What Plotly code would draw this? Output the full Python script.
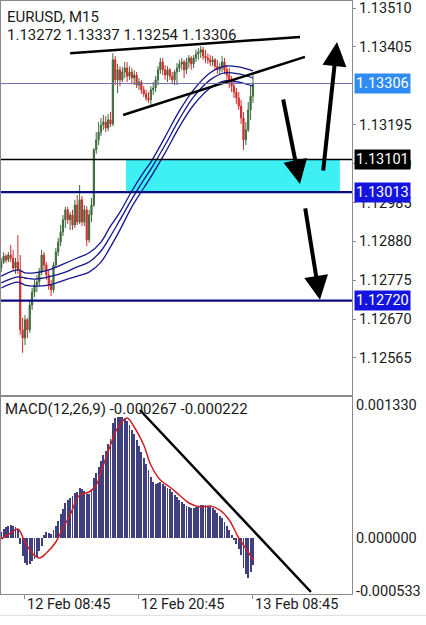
import plotly.graph_objects as go

# ---------------- data ----------------
bar_idx = list(range(107))

opens = [1.12808, 1.12824, 1.12840, 1.12830, 1.12843, 1.12835, 1.12808, 1.12824, 1.12803, 1.12641,
         1.12619, 1.12668, 1.12641, 1.12708, 1.12743, 1.12762, 1.12770, 1.12797, 1.12843, 1.12816,
         1.12789, 1.12762, 1.12749, 1.12816, 1.12851, 1.12878, 1.12905, 1.12938, 1.12965, 1.12938,
         1.12951, 1.12924, 1.12978, 1.12932, 1.12992, 1.12932, 1.12965, 1.12884, 1.12951, 1.12978,
         1.13127, 1.13154, 1.13175, 1.13194, 1.13202, 1.13186, 1.13208, 1.13197, 1.13370, 1.13316,
         1.13343, 1.13316, 1.13337, 1.13348, 1.13326, 1.13337, 1.13321, 1.13329, 1.13302, 1.13310,
         1.13289, 1.13278, 1.13267, 1.13262, 1.13289, 1.13294, 1.13316, 1.13343, 1.13364, 1.13343,
         1.13329, 1.13343, 1.13326, 1.13316, 1.13337, 1.13348, 1.13359, 1.13364, 1.13343, 1.13364,
         1.13375, 1.13359, 1.13375, 1.13386, 1.13391, 1.13397, 1.13380, 1.13375, 1.13370, 1.13364,
         1.13370, 1.13353, 1.13343, 1.13348, 1.13364, 1.13343, 1.13329, 1.13310, 1.13299, 1.13283,
         1.13267, 1.13245, 1.13213, 1.13154, 1.13181, 1.13235, 1.13272]
highs = [1.12835, 1.12851, 1.12846, 1.12851, 1.12870, 1.12857, 1.12835, 1.12897, 1.12843, 1.12673,
         1.12681, 1.12673, 1.12722, 1.12754, 1.12776, 1.12789, 1.12808, 1.12857, 1.12851, 1.12824,
         1.12803, 1.12776, 1.12824, 1.12862, 1.12889, 1.12924, 1.12951, 1.12973, 1.12973, 1.12959,
         1.12965, 1.12992, 1.13005, 1.13032, 1.13002, 1.12978, 1.12975, 1.12965, 1.12997, 1.13132,
         1.13175, 1.13202, 1.13213, 1.13221, 1.13218, 1.13224, 1.13229, 1.13388, 1.13380, 1.13359,
         1.13353, 1.13351, 1.13364, 1.13364, 1.13353, 1.13348, 1.13343, 1.13337, 1.13321, 1.13316,
         1.13299, 1.13289, 1.13283, 1.13299, 1.13310, 1.13326, 1.13353, 1.13375, 1.13375, 1.13356,
         1.13353, 1.13348, 1.13337, 1.13343, 1.13361, 1.13370, 1.13375, 1.13370, 1.13375, 1.13383,
         1.13380, 1.13383, 1.13397, 1.13402, 1.13407, 1.13405, 1.13397, 1.13388, 1.13383, 1.13380,
         1.13375, 1.13370, 1.13361, 1.13380, 1.13375, 1.13356, 1.13348, 1.13326, 1.13316, 1.13294,
         1.13283, 1.13262, 1.13229, 1.13202, 1.13256, 1.13299, 1.13337]
lows = [1.12797, 1.12819, 1.12822, 1.12824, 1.12824, 1.12800, 1.12792, 1.12792, 1.12627, 1.12579,
        1.12600, 1.12619, 1.12633, 1.12695, 1.12730, 1.12743, 1.12759, 1.12789, 1.12803, 1.12776,
        1.12749, 1.12732, 1.12741, 1.12808, 1.12840, 1.12867, 1.12894, 1.12916, 1.12927, 1.12911,
        1.12911, 1.12916, 1.12924, 1.12927, 1.12921, 1.12921, 1.12867, 1.12876, 1.12932, 1.12973,
        1.13116, 1.13140, 1.13164, 1.13181, 1.13175, 1.13178, 1.13189, 1.13191, 1.13302, 1.13280,
        1.13299, 1.13310, 1.13321, 1.13310, 1.13316, 1.13305, 1.13302, 1.13294, 1.13289, 1.13278,
        1.13270, 1.13259, 1.13254, 1.13248, 1.13275, 1.13283, 1.13302, 1.13332, 1.13329, 1.13316,
        1.13310, 1.13316, 1.13305, 1.13302, 1.13302, 1.13337, 1.13343, 1.13321, 1.13332, 1.13348,
        1.13343, 1.13348, 1.13364, 1.13370, 1.13375, 1.13370, 1.13361, 1.13359, 1.13353, 1.13353,
        1.13343, 1.13332, 1.13332, 1.13337, 1.13332, 1.13316, 1.13294, 1.13283, 1.13267, 1.13251,
        1.13235, 1.13197, 1.13127, 1.13140, 1.13175, 1.13208, 1.13254]
closes = [1.12824, 1.12840, 1.12830, 1.12843, 1.12835, 1.12808, 1.12824, 1.12803, 1.12641, 1.12619,
          1.12668, 1.12641, 1.12708, 1.12743, 1.12762, 1.12770, 1.12797, 1.12843, 1.12816, 1.12789,
          1.12762, 1.12749, 1.12816, 1.12851, 1.12878, 1.12905, 1.12938, 1.12965, 1.12938, 1.12951,
          1.12924, 1.12978, 1.12932, 1.12992, 1.12932, 1.12965, 1.12884, 1.12951, 1.12978, 1.13127,
          1.13154, 1.13175, 1.13194, 1.13202, 1.13186, 1.13208, 1.13197, 1.13370, 1.13316, 1.13343,
          1.13316, 1.13337, 1.13348, 1.13326, 1.13337, 1.13321, 1.13329, 1.13302, 1.13310, 1.13289,
          1.13278, 1.13267, 1.13262, 1.13289, 1.13294, 1.13316, 1.13343, 1.13364, 1.13343, 1.13329,
          1.13343, 1.13326, 1.13316, 1.13337, 1.13348, 1.13359, 1.13364, 1.13343, 1.13364, 1.13375,
          1.13359, 1.13375, 1.13386, 1.13391, 1.13397, 1.13380, 1.13375, 1.13370, 1.13364, 1.13370,
          1.13353, 1.13343, 1.13348, 1.13364, 1.13343, 1.13329, 1.13310, 1.13299, 1.13283, 1.13267,
          1.13245, 1.13213, 1.13154, 1.13181, 1.13235, 1.13272, 1.13306]

# moving-average envelope (sampled bars)
ma_idx = [0, 7, 10, 14, 20, 27, 32, 37, 42, 46, 50, 55, 60, 63, 69, 75, 81, 88, 94, 100, 106]
ma_upper = [1.12786, 1.12803, 1.12795, 1.12795, 1.12803, 1.12821, 1.12835, 1.12849, 1.12878, 1.12921,
            1.12959, 1.13016, 1.13067, 1.13094, 1.13162, 1.13232, 1.13289, 1.13335, 1.13353, 1.13351, 1.13340]
ma_mid = [1.12768, 1.12784, 1.12781, 1.12778, 1.12784, 1.12797, 1.12811, 1.12824, 1.12854, 1.12894,
          1.12938, 1.12994, 1.13046, 1.13075, 1.13140, 1.13210, 1.13270, 1.13316, 1.13335, 1.13332, 1.13321]
ma_lower = [1.12754, 1.12770, 1.12762, 1.12759, 1.12762, 1.12776, 1.12786, 1.12797, 1.12824, 1.12865,
            1.12911, 1.12973, 1.13024, 1.13054, 1.13119, 1.13189, 1.13248, 1.13294, 1.13313, 1.13310, 1.13299]

# MACD histogram (one value per bar)
macd_hist = [0.000060, 0.000090, 0.000110, 0.000120, 0.000130, 0.000120, 0.000110, 0.000090, -0.000060, -0.000180,
             -0.000250, -0.000270, -0.000260, -0.000230, -0.000210, -0.000190, -0.000130, -0.000080, 0.000030, 0.000060,
             0.000050, 0.000040, 0.000080, 0.000120, 0.000170, 0.000240, 0.000290, 0.000350, 0.000380, 0.000400,
             0.000420, 0.000450, 0.000460, 0.000500, 0.000490, 0.000470, 0.000440, 0.000440, 0.000470, 0.000600,
             0.000650, 0.000710, 0.000770, 0.000830, 0.000870, 0.000940, 0.000990, 0.001150, 0.001200, 0.001210,
             0.001210, 0.001210, 0.001200, 0.001170, 0.001130, 0.001080, 0.001040, 0.000980, 0.000920, 0.000860,
             0.000800, 0.000740, 0.000680, 0.000610, 0.000560, 0.000540, 0.000550, 0.000560, 0.000540, 0.000520,
             0.000500, 0.000490, 0.000460, 0.000430, 0.000410, 0.000380, 0.000360, 0.000340, 0.000320, 0.000310,
             0.000300, 0.000300, 0.000310, 0.000320, 0.000330, 0.000330, 0.000330, 0.000320, 0.000310, 0.000300,
             0.000280, 0.000250, 0.000220, 0.000200, 0.000160, 0.000120, 0.000080, 0.000030, -0.000020, -0.000060,
             -0.000110, -0.000170, -0.000300, -0.000360, -0.000400, -0.000340, -0.000267]
sig_idx = [0, 4, 7, 10, 13, 16, 19, 23, 26, 29, 33, 37, 40, 43, 46, 49, 53, 56, 60, 63, 67, 71, 75, 79,
           84, 88, 92, 96, 100, 104, 106]
macd_signal = [-0.000010, 0.000050, 0.000090, -0.000040, -0.000150, -0.000200, -0.000150, -0.000040, 0.000100,
               0.000230, 0.000430, 0.000460, 0.000530, 0.000730, 0.000930, 0.001100, 0.001200, 0.001110, 0.000930,
               0.000730, 0.000580, 0.000510, 0.000430, 0.000350, 0.000310, 0.000320, 0.000280, 0.000180, 0.000000,
               -0.000140, -0.000222]

price_ticks = [1.13510, 1.13405, 1.13195, 1.13090, 1.12985, 1.12880, 1.12775, 1.12670, 1.12565]
macd_ticks = [0.001330, 0.0, -0.000533]
macd_tick_text = ["0.001330", "0.000000", "-0.000533"]
time_ticks = [10, 58, 106]
time_labels = ["12 Feb 08:45", "12 Feb 20:45", "13 Feb 08:45"]

# marked price levels: (price, line colour, line width, label bg)
levels = [(1.13306, "#6f6fb0", 1, "#2f8cf2"),
          (1.13101, "#000000", 1.5, "#000000"),
          (1.13013, "#0b0b80", 2.2, "#1414e0"),
          (1.12720, "#0b0b80", 2.2, "#1414e0")]
zone_bars = [52.5, 142.6]
zone_prices = [1.13013, 1.13101]

# drawn trendlines (bar index, price)
trend1 = [(29.0, 1.13388), (125.8, 1.13432)]
trend2 = [(51.3, 1.13221), (127.9, 1.13378)]
macd_trend = [(58.4, 0.00128), (130.4, -0.00054)]
# arrows: (tail bar, tail price, head bar, head price)
arrows = [(118.6, 1.13267, 125.8, 1.13035),
          (135.5, 1.13067, 141.4, 1.13418),
          (127.9, 1.12973, 134.2, 1.12722)]

FONT = "Roboto"
TXT = "#1a1a1a"

fig = go.Figure()

for ys in (ma_upper, ma_mid, ma_lower):
    fig.add_trace(go.Scatter(x=ma_idx, y=ys, mode="lines", line=dict(color="#16168c", width=1.3, shape="spline"),
                             xaxis="x", yaxis="y", hoverinfo="skip", showlegend=False))

fig.add_trace(go.Candlestick(x=bar_idx, open=opens, high=highs, low=lows, close=closes,
                             increasing=dict(line=dict(color="#3e6b3e", width=1), fillcolor="#3e6b3e"),
                             decreasing=dict(line=dict(color="#d22b2b", width=1), fillcolor="#d22b2b"),
                             whiskerwidth=0, xaxis="x", yaxis="y", showlegend=False, hoverinfo="skip"))

for (x0, y0), (x1, y1) in (trend1, trend2):
    fig.add_trace(go.Scatter(x=[x0, x1], y=[y0, y1], mode="lines", line=dict(color="#000", width=2.5),
                             xaxis="x", yaxis="y", hoverinfo="skip", showlegend=False))

fig.add_trace(go.Bar(x=bar_idx, y=macd_hist, width=0.38, marker=dict(color="#404080", line=dict(width=0)),
                     xaxis="x2", yaxis="y2", hoverinfo="skip", showlegend=False))
fig.add_trace(go.Scatter(x=sig_idx, y=macd_signal, mode="lines", line=dict(color="#cc1f24", width=1.5, shape="spline"),
                         xaxis="x2", yaxis="y2", hoverinfo="skip", showlegend=False))
fig.add_trace(go.Scatter(x=[p[0] for p in macd_trend], y=[p[1] for p in macd_trend], mode="lines",
                         line=dict(color="#000", width=2.5), xaxis="x2", yaxis="y2", hoverinfo="skip",
                         showlegend=False, cliponaxis=False))

shapes = [dict(type="rect", xref="x", yref="y", x0=zone_bars[0], x1=zone_bars[1], y0=zone_prices[0],
               y1=zone_prices[1], fillcolor="#3ef0f4", line=dict(width=0), layer="below")]
for price, col, w, bg in levels:
    shapes.append(dict(type="line", xref="paper", yref="y", x0=0, x1=1, y0=price, y1=price,
                       line=dict(color=col, width=w)))
shapes.append(dict(type="line", xref="paper", yref="paper", x0=-0.01, x1=1.22, y0=-0.036, y1=-0.036,
                   line=dict(color="#dddddd", width=1)))

annotations = [
    dict(xref="paper", yref="paper", x=0, y=0.9735, xshift=4, xanchor="left", yanchor="middle",
         text="EURUSD, M15", showarrow=False, font=dict(family=FONT, size=15, color=TXT)),
    dict(xref="paper", yref="paper", x=0, y=0.9427, xshift=4, xanchor="left", yanchor="middle",
         text="1.13272 1.13337 1.13254 1.13306", showarrow=False, font=dict(family=FONT, size=15, color=TXT)),
    dict(xref="paper", yref="paper", x=0, y=0.312, xshift=2, xanchor="left", yanchor="middle",
         text="MACD(12,26,9) -0.000267 -0.000222", showarrow=False, font=dict(family=FONT, size=15, color=TXT)),
]
for price, col, w, bg in levels:
    annotations.append(dict(xref="paper", yref="y", x=1, xshift=2, y=price, xanchor="left", yanchor="middle",
                            text="%.5f" % price, showarrow=False, bgcolor=bg, borderpad=1,
                            font=dict(family=FONT, size=14.5, color="#ffffff")))
for tv, tl in zip(time_ticks, time_labels):
    annotations.append(dict(xref="x2", yref="paper", x=tv, y=-0.017, xanchor="left", yanchor="middle",
                            text=tl, showarrow=False, font=dict(family=FONT, size=14.5, color=TXT)))
for tx, ty, hx, hy in arrows:
    annotations.append(dict(xref="x", yref="y", axref="x", ayref="y", x=hx, y=hy, ax=tx, ay=ty,
                            showarrow=True, arrowhead=2, arrowsize=1.2, arrowwidth=4, arrowcolor="#000",
                            standoff=0, text=""))

fig.update_layout(
    width=426, height=625,
    margin=dict(l=1, r=74, t=1, b=31),
    paper_bgcolor="#ffffff", plot_bgcolor="#ffffff",
    showlegend=False, bargap=0,
    xaxis=dict(domain=[0, 1], anchor="y", range=[-0.1, 147.7], showticklabels=False, showgrid=False,
               zeroline=False, showline=True, mirror=True, linecolor="#8a8a8a", linewidth=1,
               rangeslider=dict(visible=False), ticks=""),
    yaxis=dict(domain=[0.3356, 1], anchor="x", side="right", range=[1.124651, 1.135289],
               tickvals=price_ticks, ticktext=["%.5f" % v for v in price_ticks], ticks="outside", ticklen=3,
               tickcolor="#8a8a8a", showgrid=False, zeroline=False, showline=True, mirror=True,
               linecolor="#8a8a8a", linewidth=1, tickfont=dict(family=FONT, size=14.5, color=TXT)),
    xaxis2=dict(domain=[0, 1], anchor="y2", range=[-0.1, 147.7], tickvals=time_ticks, ticktext=["", "", ""],
                ticks="outside", ticklen=4, tickcolor="#8a8a8a", showgrid=False, zeroline=False, showline=True,
                mirror=True, linecolor="#8a8a8a", linewidth=1),
    yaxis2=dict(domain=[0, 0.3322], anchor="x2", side="right", range=[-0.00056, 0.00141],
                tickvals=macd_ticks, ticktext=macd_tick_text, ticks="", showgrid=False, zeroline=False,
                showline=True, mirror=True, linecolor="#8a8a8a", linewidth=1,
                tickfont=dict(family=FONT, size=14.5, color=TXT)),
    shapes=shapes,
    annotations=annotations,
)

fig.write_html("out.html")
